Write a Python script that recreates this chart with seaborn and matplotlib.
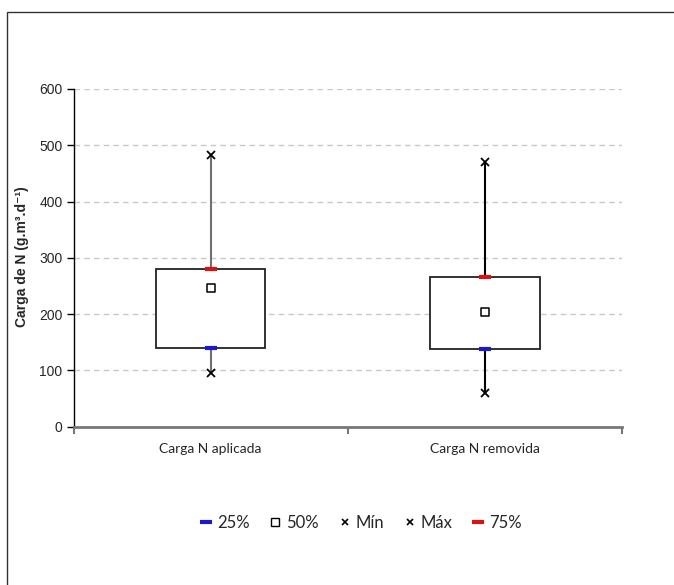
import numpy as np
import pandas as pd
import matplotlib.pyplot as plt
import seaborn as sns
from matplotlib.patches import Rectangle
from matplotlib.lines import Line2D

categories = ['Carga N aplicada', 'Carga N removida']
q25 = [139, 137]
q50 = [246, 203]
q75 = [280, 265]
v_min = [96, 59]
v_max = [483, 471]

df = pd.DataFrame({'cat': categories, 'q25': q25, 'q50': q50, 'q75': q75,
                   'min': v_min, 'max': v_max})

sns.set_style('white')
plt.rcParams['font.family'] = ['Liberation Sans', 'DejaVu Sans']

fig = plt.figure(figsize=(6.74, 5.85), dpi=100)
ax = fig.add_axes([73.5/674, 1-426.5/585, (622-73.5)/674, (426.5-89)/585])

xpos = np.arange(len(df))

# whiskers min -> max
ax.vlines(xpos, df['min'], df['max'], colors=['#707070', 'black'], linewidth=1.5, zorder=2)

# boxes 25% -> 75%
ax.bar(xpos, df['q75'] - df['q25'], bottom=df['q25'], width=0.40,
       color='white', edgecolor='#222222', linewidth=1.3, zorder=3)

# markers
sns.scatterplot(x=xpos, y=df['q50'], ax=ax, marker='s', s=40, color='white',
                edgecolor='black', linewidth=1.1, zorder=5)
ax.plot(xpos, df['min'], 'x', color='black', markersize=6, mew=1.3, zorder=5)
ax.plot(xpos, df['max'], 'x', color='black', markersize=6, mew=1.3, zorder=5)
ax.plot(xpos, df['q25'], '_', color='#1a1acc', markersize=9, mew=3, zorder=6)
ax.plot(xpos, df['q75'], '_', color='#e01010', markersize=9, mew=3, zorder=6)
ax.set_xlabel('')
ax.set_ylabel('')

ax.set_xlim(-0.5, 1.5)
ax.set_ylim(0, 600)
ax.set_yticks(range(0, 601, 100))
ax.tick_params(axis='y', which='major', direction='out', length=5, width=1,
               color='black', labelsize=10, pad=3, left=True)
for y in range(100, 601, 100):
    ax.axhline(y, color='#c8c8c8', linestyle=(0, (4, 3)), linewidth=1, zorder=1)

ax.set_xticks([-0.5, 0.5, 1.5])
ax.set_xticklabels([])
ax.tick_params(axis='x', which='major', direction='out', length=5, width=1.5,
               color='#777777', bottom=True)
ax.set_xticks(xpos, minor=True)
ax.set_xticklabels(categories, minor=True, family=['Lato', 'DejaVu Sans'], fontsize=10)
ax.tick_params(axis='x', which='minor', length=0, pad=12)

for s in ['top', 'right']:
    ax.spines[s].set_visible(False)
ax.spines['left'].set_color('black')
ax.spines['left'].set_linewidth(1)
ax.spines['bottom'].set_color('#777777')
ax.spines['bottom'].set_linewidth(2)

fig.text(22/674, 1-257/585, 'Carga de N (g.m³.d⁻¹)', rotation=90, ha='center',
         va='center', fontsize=10, fontweight='bold')

handles = [
    Line2D([], [], marker='_', color='#1a1acc', linestyle='none', markersize=8, mew=3),
    Line2D([], [], marker='s', markerfacecolor='white', markeredgecolor='black',
           color='black', linestyle='none', markersize=6),
    Line2D([], [], marker='x', color='black', linestyle='none', markersize=5, mew=1.2),
    Line2D([], [], marker='x', color='black', linestyle='none', markersize=5, mew=1.2),
    Line2D([], [], marker='_', color='#e01010', linestyle='none', markersize=8, mew=3),
]
fig.legend(handles, ['25%', '50%', 'Mín', 'Máx', '75%'], loc='center',
           bbox_to_anchor=(361/674, 1-523/585), ncol=5, frameon=False,
           prop={'family': ['Lato', 'DejaVu Sans'], 'size': 12},
           handlelength=0.7, handletextpad=0.3, columnspacing=1.2)

fig.patches.append(Rectangle((7/674, -0.02), 1.0, 1-12/585+0.02,
                             transform=fig.transFigure, fill=False,
                             edgecolor='#333333', linewidth=1))

fig.savefig('out.png', dpi=100)
